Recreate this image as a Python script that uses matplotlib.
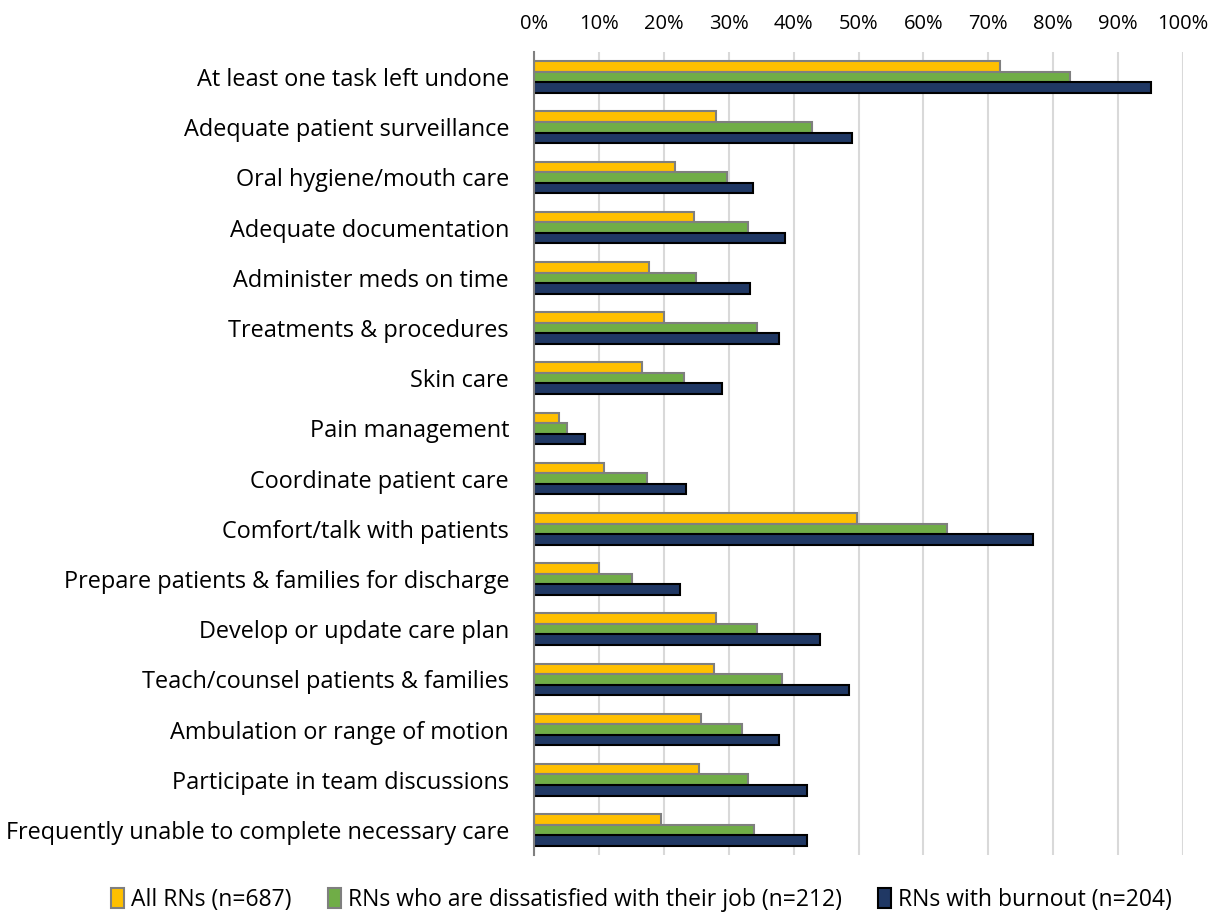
import matplotlib
matplotlib.use("Agg")
import matplotlib.pyplot as plt
import numpy as np
from matplotlib.ticker import PercentFormatter, MultipleLocator

categories = [
    "At least one task left undone",
    "Adequate patient surveillance",
    "Oral hygiene/mouth care",
    "Adequate documentation",
    "Administer meds on time",
    "Treatments & procedures",
    "Skin care",
    "Pain management",
    "Coordinate patient care",
    "Comfort/talk with patients",
    "Prepare patients & families for discharge",
    "Develop or update care plan",
    "Teach/counsel patients & families",
    "Ambulation or range of motion",
    "Participate in team discussions",
    "Frequently unable to complete necessary care",
]
all_rns = [71.8, 28.0, 21.8, 24.7, 17.7, 20.1, 16.6, 3.9, 10.8, 49.8, 10.0, 28.1, 27.7, 25.8, 25.4, 19.6]
dissatisfied = [82.6, 42.9, 29.7, 33.0, 25.0, 34.4, 23.1, 5.1, 17.4, 63.6, 15.1, 34.4, 38.2, 32.0, 33.0, 33.9]
burnout = [95.1, 49.0, 33.8, 38.7, 33.3, 37.8, 28.9, 7.8, 23.4, 76.9, 22.5, 44.1, 48.5, 37.8, 42.1, 42.1]
series_labels = ["All RNs (n=687)", "RNs who are dissatisfied with their job (n=212)", "RNs with burnout (n=204)"]

plt.rcParams['font.family'] = ['Open Sans', 'DejaVu Sans']

fig = plt.figure(figsize=(12.29, 9.19), dpi=100)
ax = fig.add_axes([534/1229, 1-855/919, (1183-534)/1229, (855-52)/919])

y = np.arange(len(categories))
h = 0.21
colors = ["#FFC000", "#70AD47", "#203864"]
edges = ["#7F7F7F", "#7F7F7F", "#000000"]
for i, (vals, c, e, lab) in enumerate(zip([all_rns, dissatisfied, burnout], colors, edges, series_labels)):
    ax.barh(y + (i - 1) * h, vals, height=h, color=c, edgecolor=e, linewidth=1.5, label=lab, zorder=3)

ax.set_xlim(0, 100)
ax.set_ylim(len(categories) - 0.5, -0.5)
ax.set_yticks(y)
ax.set_yticklabels(categories, fontsize=16.9)
ax.xaxis.set_major_locator(MultipleLocator(10))
ax.xaxis.set_major_formatter(PercentFormatter(decimals=0))
ax.xaxis.tick_top()
ax.tick_params(axis='x', length=0, labelsize=14.5, pad=13)
ax.tick_params(axis='y', length=0, pad=18)
ax.grid(axis='x', color='#D9D9D9', linewidth=1.5, zorder=0)
for s in ['top', 'right', 'bottom']:
    ax.spines[s].set_visible(False)
ax.spines['left'].set_color('#808080')
ax.spines['left'].set_linewidth(1.5)
ax.spines['left'].set_zorder(4)

leg = fig.legend(loc='center', bbox_to_anchor=(0.522, 1-900/919), ncol=3, frameon=False,
                 fontsize=16.5, handlelength=0.55, handleheight=1.0, handletextpad=0.3, columnspacing=1.6)

fig.savefig("out.png", dpi=100)
